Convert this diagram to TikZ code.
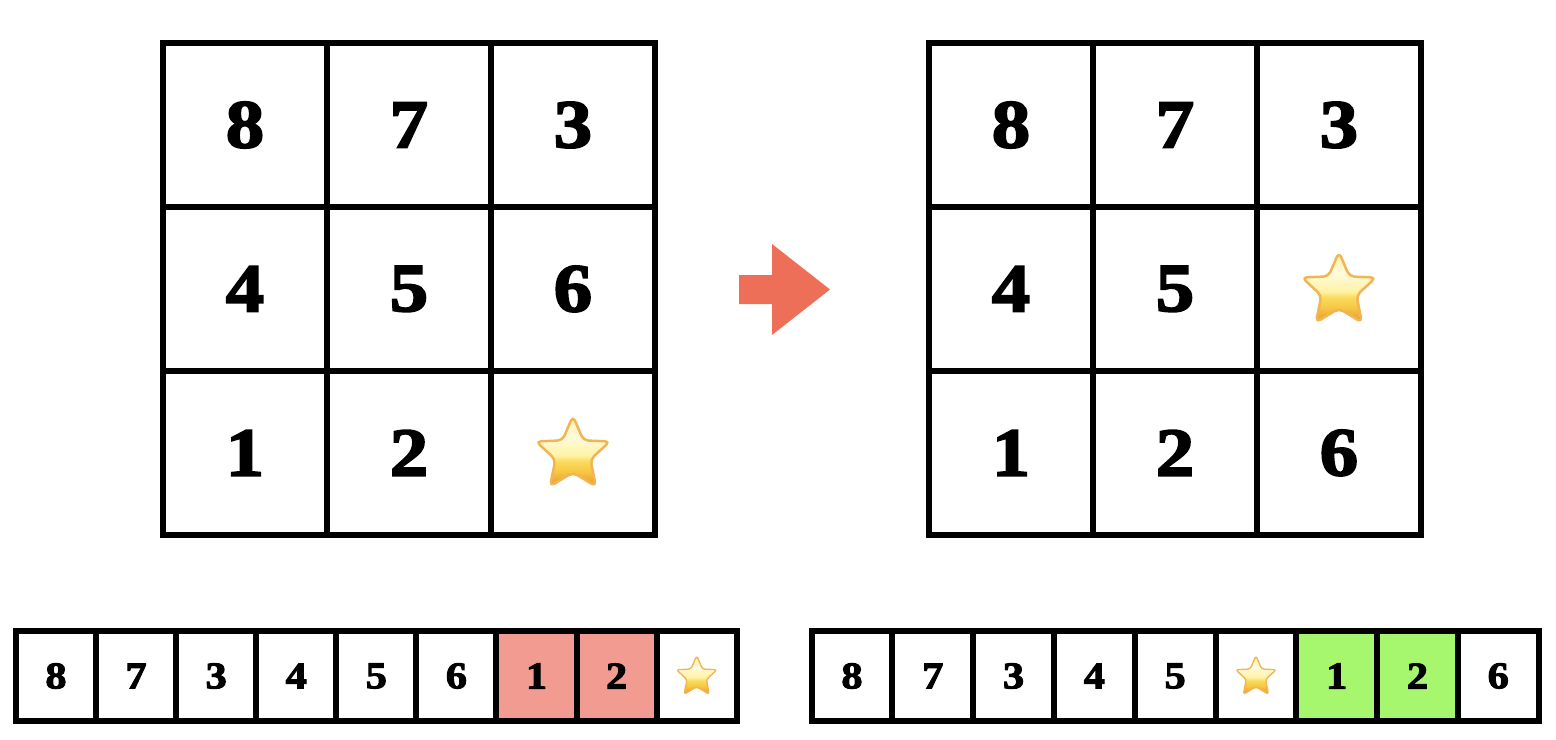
\documentclass[tikz,border=0pt]{standalone}
\usepackage{fontspec}
\usepackage{tikz}
\usetikzlibrary{positioning}
\newfontfamily\digitfont{Liberation Serif}[BoldFeatures={FakeBold=2.8,FakeStretch=1.12}]
\definecolor{arrowred}{HTML}{EE6F57}
\definecolor{moverred}{HTML}{F29B90}
\definecolor{movergreen}{HTML}{A6F76E}
\definecolor{starrim}{HTML}{F3B453}
\definecolor{stara}{HTML}{E69A2E}
\definecolor{starb}{HTML}{EBA534}
\definecolor{starc}{HTML}{F7C844}
\definecolor{stard}{HTML}{FADC5E}
\definecolor{stare}{HTML}{FFF2A6}
\definecolor{starf}{HTML}{FFFBDC}
\definecolor{starg}{HTML}{FFF4BC}
\definecolor{starh}{HTML}{FBD88A}
\pgfdeclareverticalshading{starfill}{100bp}{color(0bp)=(stara); color(28bp)=(starb); color(36bp)=(starc); color(43bp)=(stard); color(47bp)=(stare); color(60bp)=(starf); color(70bp)=(starg); color(100bp)=(starh)}

\begin{document}
\begin{tikzpicture}[
    x=0.02cm, y=-0.02cm,
    bigcell/.style={draw, line width=0.12cm, minimum size=3.28cm, outer sep=0pt, inner sep=0pt, font=\digitfont\bfseries\fontsize{39}{39}\selectfont},
    lcell/.style={draw, line width=0.12cm, minimum width=1.602cm, minimum height=1.8cm, outer sep=0pt, inner sep=0pt, font=\digitfont\bfseries\fontsize{21.5}{21.5}\selectfont},
    rcell/.style={lcell, minimum width=1.616cm},
    emojistar/.pic={
        \shade[shading=starfill, draw=starrim, line width=#1*0.05cm, line join=round, rounded corners=#1*0.1cm, scale=#1]
            (0,-37) -- (10.5,-12.5) -- (37,-11.5) -- (17.5,6.5) -- (23,33.5) -- (0,19.5) -- (-23,33.5) -- (-17.5,6.5) -- (-37,-11.5) -- (-10.5,-12.5) -- cycle;
    }
]
\useasboundingbox (0,0) rectangle (1556,740);
% left grid
\node[bigcell] (a1) at (245,125) {8};
\node[bigcell, right=0pt of a1] (a2) {7};
\node[bigcell, right=0pt of a2] (a3) {3};
\node[bigcell, below=0pt of a1] (a4) {4};
\node[bigcell, right=0pt of a4] (a5) {5};
\node[bigcell, right=0pt of a5] (a6) {6};
\node[bigcell, below=0pt of a4] (a7) {1};
\node[bigcell, right=0pt of a7] (a8) {2};
\node[bigcell, right=0pt of a8] (a9) {};
\pic at (a9) {emojistar=1};
% right grid
\node[bigcell] (b1) at (1011,125) {8};
\node[bigcell, right=0pt of b1] (b2) {7};
\node[bigcell, right=0pt of b2] (b3) {3};
\node[bigcell, below=0pt of b1] (b4) {4};
\node[bigcell, right=0pt of b4] (b5) {5};
\node[bigcell, right=0pt of b5] (b6) {};
\node[bigcell, below=0pt of b4] (b7) {1};
\node[bigcell, right=0pt of b7] (b8) {2};
\node[bigcell, right=0pt of b8] (b9) {6};
\pic at (b6) {emojistar=1};
% move arrow
\fill[arrowred] (739,275) -- (772,275) -- (772,244) -- (830,289.5) -- (772,335) -- (772,304) -- (739,304) -- cycle;
% left strip
\node[lcell] (c1) at (56,676) {8};
\node[lcell, right=0pt of c1] (c2) {7};
\node[lcell, right=0pt of c2] (c3) {3};
\node[lcell, right=0pt of c3] (c4) {4};
\node[lcell, right=0pt of c4] (c5) {5};
\node[lcell, right=0pt of c5] (c6) {6};
\node[lcell, fill=moverred, right=0pt of c6] (c7) {1};
\node[lcell, fill=moverred, right=0pt of c7] (c8) {2};
\node[lcell, right=0pt of c8] (c9) {};
\pic at (c9) {emojistar=0.55};
% right strip
\node[rcell] (d1) at (852,676) {8};
\node[rcell, right=0pt of d1] (d2) {7};
\node[rcell, right=0pt of d2] (d3) {3};
\node[rcell, right=0pt of d3] (d4) {4};
\node[rcell, right=0pt of d4] (d5) {5};
\node[rcell, right=0pt of d5] (d6) {};
\node[rcell, fill=movergreen, right=0pt of d6] (d7) {1};
\node[rcell, fill=movergreen, right=0pt of d7] (d8) {2};
\node[rcell, right=0pt of d8] (d9) {6};
\pic at (d6) {emojistar=0.55};
\end{tikzpicture}
\end{document}
